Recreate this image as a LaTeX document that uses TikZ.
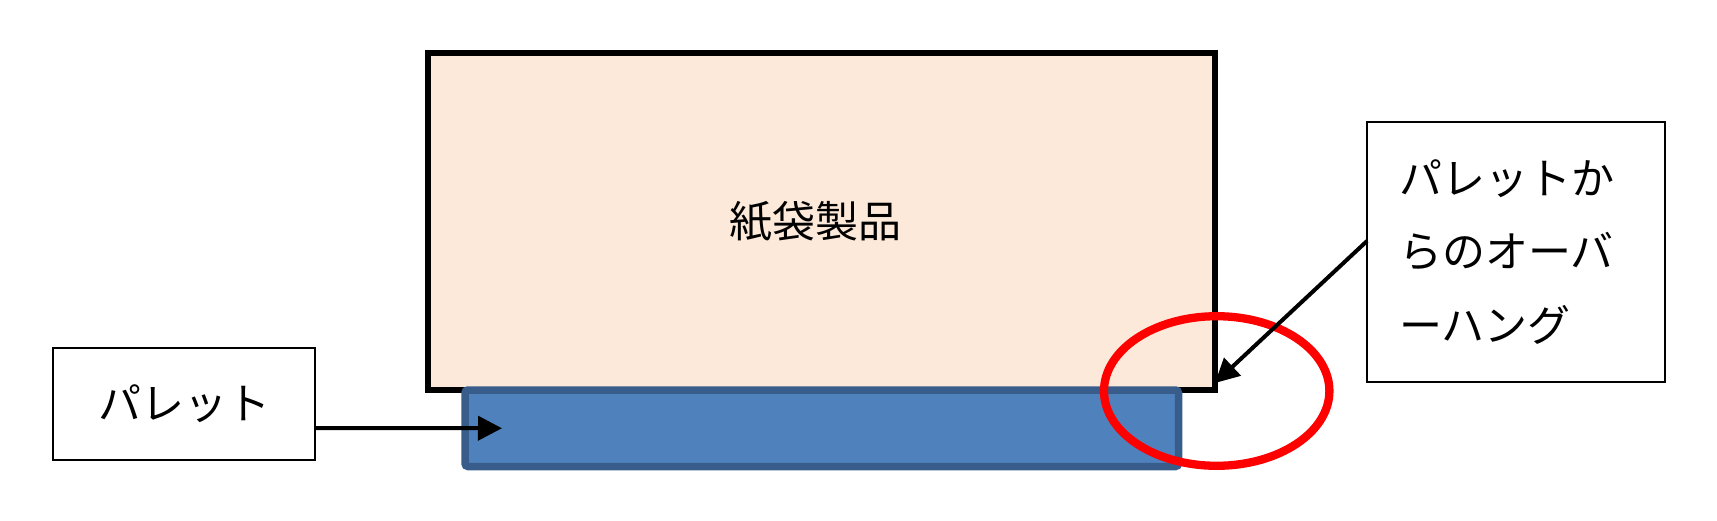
\documentclass[tikz,border=0pt]{standalone}
\usepackage{fontspec}
\newfontfamily\jp{Noto Sans CJK JP}
\usetikzlibrary{arrows.meta,shapes.geometric}
\definecolor{peach}{HTML}{FDE9D9}
\definecolor{palletfill}{HTML}{4F81BD}
\definecolor{palletedge}{HTML}{385D8A}
\definecolor{ovred}{HTML}{FF0000}
\tikzset{
  jptext/.style={font=\jp\fontsize{43bp}{73.5bp}\selectfont},
  labelbox/.style={draw=black, line width=2.5bp, fill=white, inner sep=0pt, outer sep=0pt, jptext},
  pointer/.style={draw=black, line width=4bp, -{Triangle[length=24bp,width=24bp]}},
}
\begin{document}
\begin{tikzpicture}[x=1bp,y=-1bp]
\useasboundingbox (0,0) rectangle (1717,521);
% bag product
\node[draw=black, line width=5.5bp, fill=peach, minimum width=787bp, minimum height=337bp,
      inner sep=0pt, outer sep=0pt, jptext] (bag) at (821.5,221.5) {};
\node[jptext] (bagtext) at (815,221.5) {紙袋製品};
% pallet
\node[draw=palletedge, line width=7.5bp, fill=palletfill, rounded corners=3bp,
      minimum width=713.5bp, minimum height=76.5bp, inner sep=0pt, outer sep=0pt] (pallet) at (821.75,428.25) {};
% overhang ellipse
\node[ellipse, draw=ovred, line width=8.3bp, minimum width=225.4bp, minimum height=149.6bp,
      inner sep=0pt, outer sep=0pt] (ovh) at (1216.7,391) {};
% label boxes
\node[labelbox, minimum width=262bp, minimum height=112bp] (lblP) at (184,404) {パレット};
\node[labelbox, minimum width=298bp, minimum height=260bp, text width=234bp, align=left] (lblO) at (1516,252)
  {パレットか\\らのオーバ\\ーハング};
% connectors
\draw[pointer] ([yshift=-24bp]lblP.east) -- ([xshift=37bp]pallet.west);
\draw[pointer] ([yshift=11bp]lblO.west) -- ([yshift=7bp]bag.south east);
\end{tikzpicture}
\end{document}
